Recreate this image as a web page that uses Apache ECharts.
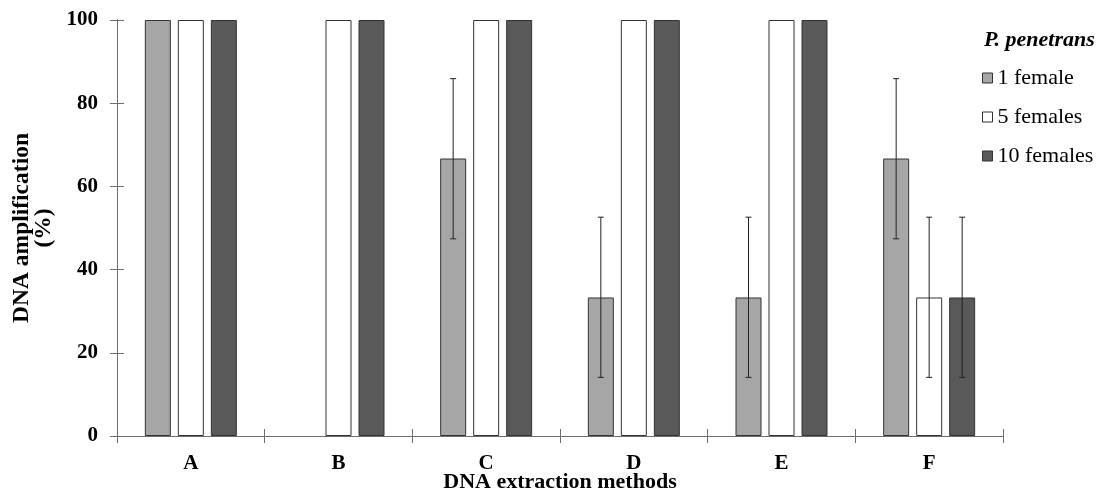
<!DOCTYPE html>
<html>
<head>
<meta charset="utf-8">
<script src="https://cdn.jsdelivr.net/npm/echarts@6/dist/echarts.min.js"></script>
<style>
    html, body {margin: 0; padding: 0; background: #fff;}
    #chart {width: 1103px; height: 504px;}
</style>
</head>
<body>
<div id="chart"></div>
<script>
// data
let methods = ['A', 'B', 'C', 'D', 'E', 'F']
let seriesNames = ['1 female', '5 females', '10 females']
let oneFemale = [100, 0, 66.7, 33.3, 33.3, 66.7]
let fiveFemales = [100, 100, 100, 100, 100, 33.3]
let tenFemales = [100, 100, 100, 100, 100, 33.3]
// error bars: [method index, low, high]
let oneFemaleErr = [[2, 47.4, 85.9], [3, 14.1, 52.6], [4, 14.1, 52.6], [5, 47.4, 85.9]]
let fiveFemalesErr = [[5, 14.1, 52.6]]
let tenFemalesErr = [[5, 14.1, 52.6]]
let yTicks = [0, 20, 40, 60, 80, 100]

let barColors = ['#a6a6a6', '#ffffff', '#595959']
let barW = 26
let barStep = 33
let font = '"Liberation Serif", "Times New Roman", serif'
let axisGrey = '#6e6e6e'

let chart = echarts.init(document.getElementById('chart'))

function errorSeries(data, idx) {
    return {
        type: 'custom',
        xAxisIndex: 0,
        yAxisIndex: 0,
        z: 5,
        silent: true,
        data: data,
        renderItem: function (params, api) {
            let hi = api.coord([api.value(0), api.value(2)])
            let lo = api.coord([api.value(0), api.value(1)])
            let x = hi[0] + (idx - 1) * barStep
            let cap = 3
            let style = {stroke: '#222', lineWidth: 1}
            return {
                type: 'group',
                children: [
                    {type: 'line', shape: {x1: x, y1: hi[1], x2: x, y2: lo[1]}, style: style},
                    {type: 'line', shape: {x1: x - cap, y1: hi[1], x2: x + cap, y2: hi[1]}, style: style},
                    {type: 'line', shape: {x1: x - cap, y1: lo[1], x2: x + cap, y2: lo[1]}, style: style}
                ]
            }
        }
    }
}

function barSeries(name, data, idx) {
    return {
        name: name,
        type: 'bar',
        xAxisIndex: 0,
        yAxisIndex: 0,
        // empty bars get no outline
        data: data.map(function (v) {
            return v === 0 ? {value: v, itemStyle: {borderWidth: 0}} : v
        }),
        barWidth: barW,
        barGap: ((barStep - barW) / barW * 100) + '%',
        itemStyle: {color: barColors[idx], borderColor: '#333', borderWidth: 1}
    }
}

let option = {
    animation: false,
    backgroundColor: '#fff',
    title: {
        text: 'P. penetrans',
        left: 979,
        top: 24,
        textStyle: {fontFamily: font, fontSize: 22, fontStyle: 'italic', fontWeight: 'bold', color: '#000'}
    },
    legend: {
        orient: 'vertical',
        left: 977,
        top: 62,
        itemWidth: 10,
        itemHeight: 10,
        itemGap: 17,
        selectedMode: false,
        icon: 'rect',
        data: seriesNames.map(function (n) { return {name: n, itemStyle: {borderColor: '#333', borderWidth: 1}} }),
        textStyle: {fontFamily: font, fontSize: 22, color: '#000'}
    },
    grid: {left: 117, right: 100, top: 20, bottom: 68, outerBoundsMode: 'none'},
    xAxis: [
        {
            type: 'category',
            data: methods,
            name: 'DNA extraction methods',
            nameLocation: 'middle',
            nameGap: 35,
            nameMoveOverlap: false,
            nameTextStyle: {fontFamily: font, fontSize: 22, fontWeight: 'bold', color: '#000'},
            axisLine: {lineStyle: {color: axisGrey, width: 1}},
            axisTick: {show: true, inside: false, length: 7, lineStyle: {color: axisGrey}},
            axisLabel: {fontFamily: font, fontSize: 21, fontWeight: 'bold', color: '#000', margin: 17}
        },
        {
            // second axis only for the inner half of the crossing ticks
            type: 'category',
            data: methods,
            position: 'bottom',
            offset: 0,
            axisLine: {show: true, lineStyle: {color: axisGrey, width: 1}},
            axisTick: {show: true, inside: true, length: 7, lineStyle: {color: axisGrey}},
            axisLabel: {show: false}
        }
    ],
    yAxis: [
        {
            type: 'value',
            min: 0,
            max: 100,
            interval: 20,
            name: 'DNA amplification\n(%)',
            nameLocation: 'middle',
            nameGap: 62,
            nameMoveOverlap: false,
            nameTextStyle: {fontFamily: font, fontSize: 23.5, fontWeight: 'bold', color: '#000', lineHeight: 22},
            axisLine: {show: true, lineStyle: {color: axisGrey, width: 1}},
            axisTick: {show: true, inside: false, length: 7, lineStyle: {color: axisGrey}},
            splitLine: {show: false},
            axisLabel: {
                fontFamily: font, fontSize: 21, fontWeight: 'bold', color: '#000', margin: 19,
                formatter: function (v) { return yTicks.indexOf(v) >= 0 ? String(v) : '' }
            }
        },
        {
            type: 'value',
            min: 0,
            max: 100,
            interval: 20,
            position: 'left',
            offset: 0,
            axisLine: {show: true, lineStyle: {color: axisGrey, width: 1}},
            axisTick: {show: true, inside: true, length: 7, lineStyle: {color: axisGrey}},
            splitLine: {show: false},
            axisLabel: {show: false}
        }
    ],
    series: [
        barSeries(seriesNames[0], oneFemale, 0),
        barSeries(seriesNames[1], fiveFemales, 1),
        barSeries(seriesNames[2], tenFemales, 2),
        errorSeries(oneFemaleErr, 0),
        errorSeries(fiveFemalesErr, 1),
        errorSeries(tenFemalesErr, 2),
        // placeholder series so the second pair of axes is drawn
        {type: 'line', xAxisIndex: 1, yAxisIndex: 1, data: methods.map(function () { return null }), silent: true, showSymbol: false}
    ]
}

chart.setOption(option)
</script>
</body>
</html>
